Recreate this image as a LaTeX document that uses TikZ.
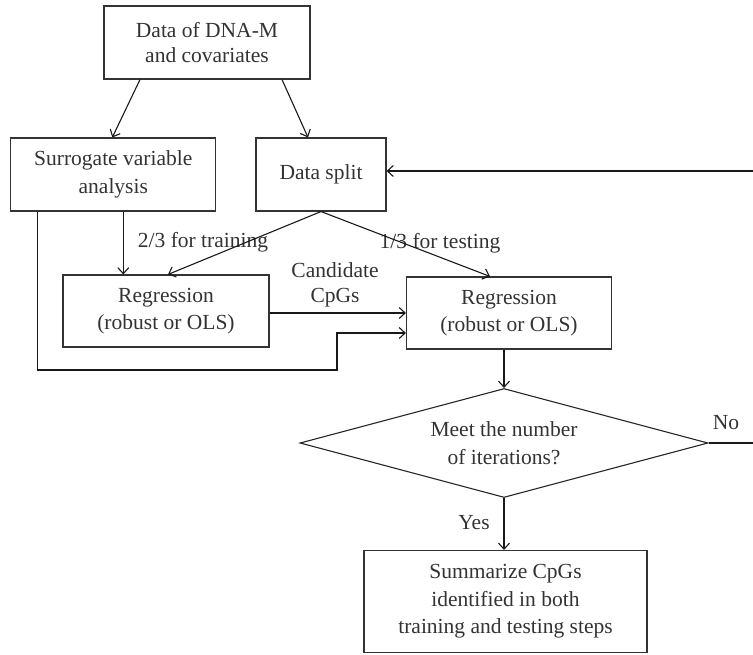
\documentclass[tikz,border=0pt]{standalone}
\usepackage{fontspec}
\setmainfont{Liberation Serif}
\usetikzlibrary{arrows.meta,shapes.geometric,calc}
\begin{document}
\begin{tikzpicture}[x=1pt,y=-1pt,
  box/.style={draw=black!80, line width=1.1pt, rectangle, align=center, inner sep=0pt,
    font=\fontsize{21.5}{27.5}\selectfont, text=black!80},
  dia/.style={draw=black!85, line width=1.1pt, diamond, aspect=3.743, align=center, inner sep=0pt,
    font=\fontsize{21.5}{27.5}\selectfont, text=black!80},
  arr/.style={draw=black!90, line width=1.1pt, -{Straight Barb[length=6pt,width=11pt]}},
  lbl/.style={font=\fontsize{21.5}{24.5}\selectfont, text=black!80, align=center, inner sep=0pt}]
\useasboundingbox (0,0) rectangle (753,654);
% nodes
\node[box, minimum width=206pt, minimum height=73pt, font=\fontsize{21.5}{24.5}\selectfont] (top) at (207,42.5) {Data of DNA-M\\and covariates};
\node[box, minimum width=205pt, minimum height=73pt] (sva) at (113.3,174.5) {Surrogate variable\\analysis};
\node[box, minimum width=130pt, minimum height=73pt] (split) at (321,174.5) {Data split};
\node[box, minimum width=206pt, minimum height=72pt] (regL) at (166,311) {Regression\\(robust or OLS)};
\node[box, minimum width=205pt, minimum height=72pt] (regR) at (509,313) {Regression\\(robust or OLS)};
\node[dia, minimum width=408pt, minimum height=109pt] (dec) at (504,443) {Meet the number\\of iterations?};
\node[box, minimum width=283pt, minimum height=102pt] (sum) at (505.5,601.5) {Summarize CpGs\\identified in both\\training and testing steps};
% helper coordinates
\coordinate (fbB) at (757,443);
\coordinate (fbT) at (757,171);
\coordinate (loopA) at (337,370);
% labels
\node[lbl] (l23) at (203,242) {2/3 for training};
\node[lbl] (l13) at (440,243) {1/3 for testing};
\node[lbl] (cand) at (335,285) {Candidate\\CpGs};
\node[lbl] (yes) at (474,523) {Yes};
\node[lbl] (no) at (726,423) {No};
% connectors
\draw[arr] ([xshift=-67pt]top.south) -- ([xshift=-1pt]sva.north);
\draw[arr] ([xshift=75pt]top.south) -- ([xshift=-13pt]split.north);
\draw[arr] (dec.east) -- (fbB) -- (fbT) -- ([yshift=3.5pt]split.east);
\draw[arr] (split.south) -- ([xshift=2pt]regL.north);
\draw[arr] (split.south) -- ([xshift=-19pt]regR.north);
\draw[arr] ([xshift=10pt]sva.south) -- ([xshift=10pt]sva.south |- regL.north);
\draw[arr] ([xshift=-76pt]sva.south) |- (loopA) |- ([yshift=-20pt]regR.west);
\draw[arr] (regL.east |- regR.west) -- (regR.west);
\draw[arr] (dec.north |- regR.south) -- (dec.north);
\draw[arr] (dec.south) -- (dec.south |- sum.north);
\end{tikzpicture}
\end{document}
